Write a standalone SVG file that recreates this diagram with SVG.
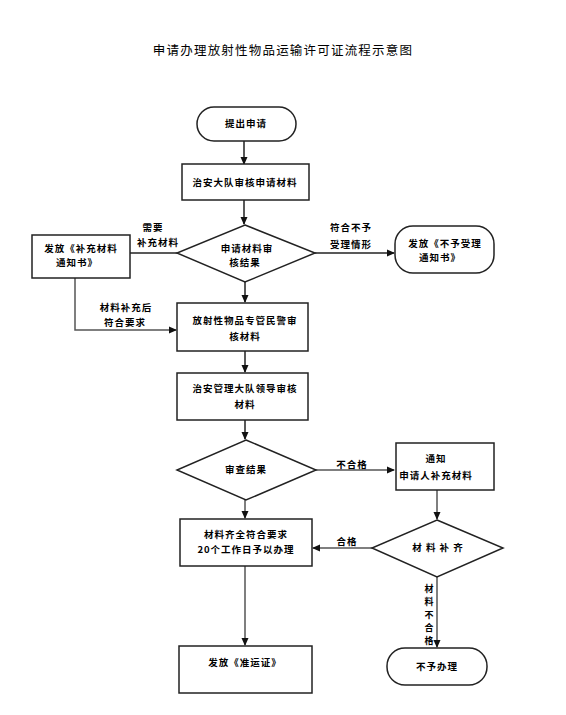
<svg xmlns="http://www.w3.org/2000/svg" width="566" height="715" viewBox="0 0 566 715">
<style>
.n{fill:#fff;stroke:#222;stroke-width:1.5}
.t{font-family:"Noto Sans CJK SC","Noto Sans CJK TC",sans-serif;font-size:9.5px;font-weight:bold;fill:#000;text-anchor:middle;letter-spacing:1px}
.l{font-family:"Noto Sans CJK SC","Noto Sans CJK TC",sans-serif;font-size:9.5px;font-weight:bold;fill:#000;text-anchor:middle;letter-spacing:1px}
.v{font-family:"Noto Sans CJK SC","Noto Sans CJK TC",sans-serif;font-size:9px;font-weight:bold;fill:#000;text-anchor:middle}
.c{fill:none;stroke:#222;stroke-width:1.5}
.g{fill:none;stroke:#555;stroke-width:1.5}
</style>
<defs>
<marker id="a" markerWidth="8" markerHeight="8" refX="7" refY="4" orient="auto" markerUnits="userSpaceOnUse">
<path d="M0,0.5 L8,4 L0,7.5 Z" fill="#111"/>
</marker>
</defs>
<rect width="566" height="715" fill="#fff"/>
<text x="283" y="55" style="font-family:'Noto Sans CJK SC',sans-serif;font-size:12.5px;fill:#000;text-anchor:middle;letter-spacing:1.2px">申请办理放射性物品运输许可证流程示意图</text>

<g id="connectors">
<line class="c" x1="244" y1="141" x2="244" y2="164" marker-end="url(#a)"/>
<line class="c" x1="244" y1="200" x2="244" y2="224" marker-end="url(#a)"/>
<line class="c" x1="177" y1="253" x2="130" y2="253"/>
<line class="c" x1="315" y1="253" x2="394" y2="253" marker-end="url(#a)"/>
<polyline class="g" points="75,278 75,330 176,330" marker-end="url(#a)"/>
<line class="c" x1="245" y1="282" x2="245" y2="302" marker-end="url(#a)"/>
<line class="c" x1="245" y1="351" x2="245" y2="372" marker-end="url(#a)"/>
<line class="c" x1="245" y1="420" x2="245" y2="439" marker-end="url(#a)"/>
<line class="g" x1="316" y1="470" x2="394" y2="470" marker-end="url(#a)"/>
<line class="g" x1="437" y1="490" x2="437" y2="519" marker-end="url(#a)"/>
<line class="g" x1="245" y1="500" x2="245" y2="518" marker-end="url(#a)"/>
<line class="g" x1="372" y1="548" x2="313" y2="548" marker-end="url(#a)"/>
<line class="g" x1="245" y1="566" x2="245" y2="645" marker-end="url(#a)"/>
<line class="g" x1="437" y1="577" x2="437" y2="647" marker-end="url(#a)"/>
<text class="l" x="153" y="231">需要</text>
<text class="l" x="158" y="246">补充材料</text>
<text class="l" x="126" y="311">材料补充后</text>
<text class="l" x="125" y="326">符合要求</text>
<text class="l" x="351" y="231">符合不予</text>
<text class="l" x="351" y="248">受理情形</text>
<text class="l" x="352" y="468">不合格</text>
<text class="l" x="347" y="545">合格</text>
<text class="v" x="429" y="592">材</text>
<text class="v" x="429" y="605">料</text>
<text class="v" x="429" y="618">不</text>
<text class="v" x="429" y="631">合</text>
<text class="v" x="429" y="644">格</text>
</g>

<g id="start">
<rect class="n" x="197" y="107" width="99" height="34" rx="17"/>
<text class="t" x="246" y="127">提出申请</text>
</g>
<g id="review1">
<rect class="n" x="182" y="164" width="127" height="36"/>
<text class="t" x="245" y="186">治安大队审核申请材料</text>
</g>
<g id="decision1">
<polygon class="n" points="245,225 315,253 245,282 177,253"/>
<text class="t" x="247" y="252">申请材料审</text>
<text class="t" x="245" y="266">核结果</text>
</g>
<g id="supplement-notice">
<rect class="n" x="32" y="235" width="98" height="43"/>
<text class="t" x="81" y="252">发放《补充材料</text>
<text class="t" x="77" y="266">通知书》</text>
</g>
<g id="reject-notice">
<rect class="n" x="395" y="226" width="99" height="47" rx="18"/>
<text class="t" x="445" y="247">发放《不予受理</text>
<text class="t" x="440" y="261">通知书》</text>
</g>
<g id="review2">
<rect class="n" x="177" y="303" width="131" height="48"/>
<text class="t" x="245" y="324">放射性物品专管民警审</text>
<text class="t" x="245" y="340">核材料</text>
</g>
<g id="review3">
<rect class="n" x="177" y="373" width="131" height="47"/>
<text class="t" x="245" y="392">治安管理大队领导审核</text>
<text class="t" x="245" y="408">材料</text>
</g>
<g id="decision2">
<polygon class="n" points="246,440 316,470 246,500 177,470"/>
<text class="t" x="246" y="473">审查结果</text>
</g>
<g id="notify">
<rect class="n" x="396" y="443" width="98" height="47"/>
<text class="t" x="436" y="462">通知</text>
<text class="t" x="436" y="479">申请人补充材料</text>
</g>
<g id="decision3">
<polygon class="n" points="437,520 503,548 437,577 372,548"/>
<text class="t" x="438" y="551">材 料 补 齐</text>
</g>
<g id="approve">
<rect class="n" x="180" y="519" width="132" height="47"/>
<text class="t" x="246" y="538">材料齐全符合要求</text>
<text class="t" x="246" y="553">20个工作日予以办理</text>
</g>
<g id="permit">
<rect class="n" x="179" y="646" width="133" height="47"/>
<text class="t" x="245" y="666">发放《准运证》</text>
</g>
<g id="refuse">
<rect class="n" x="387" y="648" width="100" height="37" rx="18"/>
<text class="t" x="437" y="670">不予办理</text>
</g>
</svg>
